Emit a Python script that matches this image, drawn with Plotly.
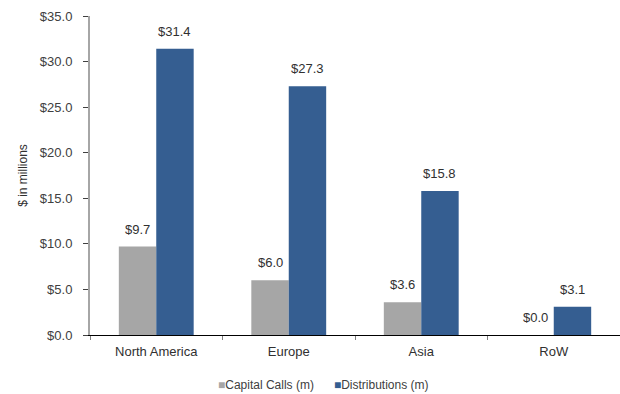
import plotly.graph_objects as go

regions = ["North America", "Europe", "Asia", "RoW"]
capital_calls = [9.7, 6.0, 3.6, 0.0]
distributions = [31.4, 27.3, 15.8, 3.1]
y_ticks = [0, 5, 10, 15, 20, 25, 30, 35]
y_tick_text = ["$%.1f" % v for v in y_ticks]

series_names = ["Capital Calls (m)", "Distributions (m)"]
series_colors = ["#A6A6A6", "#355E91"]

W, H = 620, 394
L, R, T, B = 90, 0, 16, 59
BARGAP = 0.435

font = dict(family="Liberation Sans, Arial, sans-serif", size=13, color="#404040")

fig = go.Figure()
series = [capital_calls, distributions]
bar_w = (1 - BARGAP) / len(series)
for k, (name, vals, col) in enumerate(zip(series_names, series, series_colors)):
    fig.add_trace(go.Bar(
        x=regions, y=vals, name=name,
        marker=dict(color=col, line=dict(width=0)),
        showlegend=False,
    ))
    # value labels sitting a little above each bar
    offset = (k - (len(series) - 1) / 2) * bar_w
    for i, v in enumerate(vals):
        fig.add_annotation(
            x=i + offset, y=v, text="$%.1f" % v, showarrow=False,
            xanchor="center", yanchor="bottom", yshift=8,
            font=dict(family=font["family"], size=13, color="#303030"),
        )

# compact legend row beneath the chart
legend_text = "&nbsp;&nbsp;&nbsp;&nbsp;&nbsp;&nbsp;".join(
    "<span style='color:%s'>■</span>%s" % (c, n) for n, c in zip(series_names, series_colors)
)
fig.add_annotation(
    text=legend_text, xref="paper", yref="paper",
    x=(323 - L) / (W - L - R), y=-(385 - (H - B)) / (H - T - B),
    xanchor="center", yanchor="middle", showarrow=False,
    font=dict(family=font["family"], size=12, color="#404040"),
)

fig.update_layout(
    width=W, height=H,
    margin=dict(l=L, r=R, t=T, b=B, autoexpand=False),
    paper_bgcolor="white", plot_bgcolor="white",
    font=font,
    barmode="group", bargap=BARGAP, bargroupgap=0,
    showlegend=False,
    xaxis=dict(
        showline=True, linecolor="#000000", linewidth=1,
        ticks="outside", tickson="boundaries", ticklen=4, tickcolor="#808080",
        ticklabelstandoff=4,
        showgrid=False, tickfont=dict(size=13, color="#303030"),
        range=[-0.5, 3.5],
    ),
    yaxis=dict(
        range=[0, 35], tickvals=y_ticks, ticktext=y_tick_text,
        showline=True, linecolor="#A6A6A6", linewidth=2,
        ticks="outside", ticklen=5, tickcolor="#404040",
        ticklabelstandoff=8,
        showgrid=False, zeroline=False,
        tickfont=dict(size=13, color="#404040"),
        title=dict(text="$ in millions", font=dict(size=12, color="#303030"), standoff=10),
    ),
)

fig.write_html("out.html")
